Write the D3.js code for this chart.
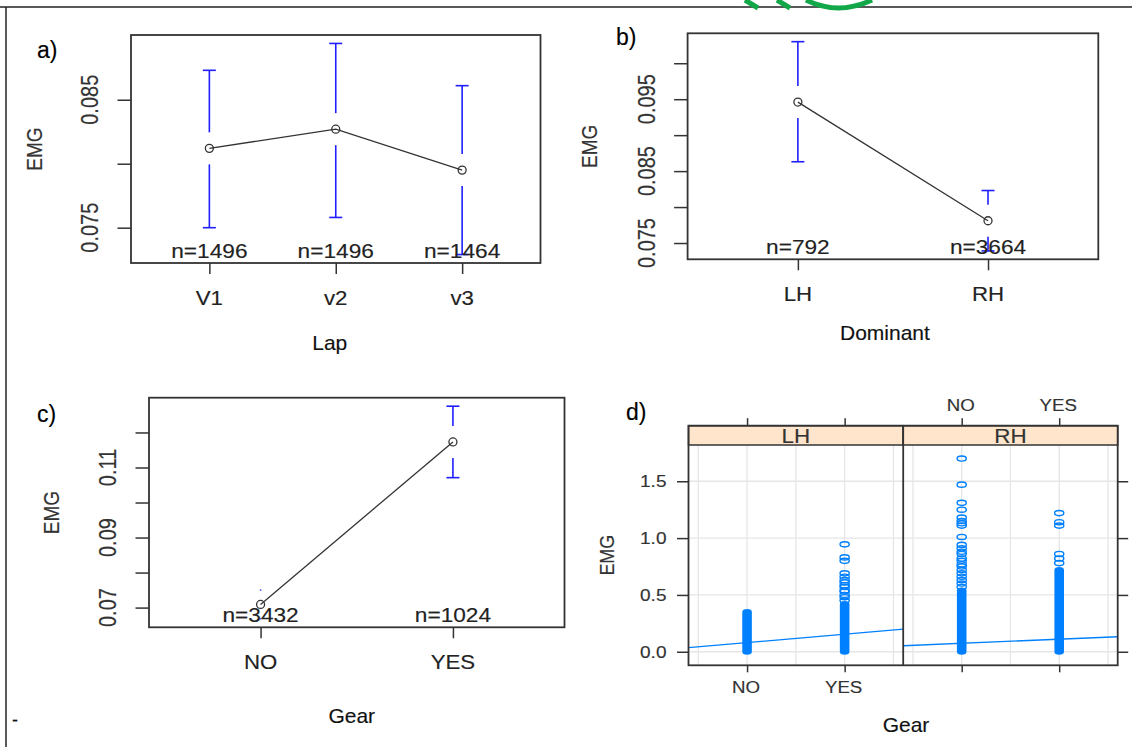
<!DOCTYPE html>
<html>
<head>
<meta charset="utf-8">
<script src="https://cdn.jsdelivr.net/npm/d3@7"></script>
<style>
  body { margin: 0; background: #fff; }
  svg text { font-family: "Liberation Sans", Arial, sans-serif; }
</style>
</head>
<body>
<svg id="fig" width="1132" height="747"></svg>
<script>
// ---------------------
// data
// ---------------------

// a) EMG by lap
var lapLevels = ["V1", "v2", "v3"];
var lapMeans  = [0.0812, 0.0827, 0.0795];
var lapLower  = [0.0750, 0.0758, 0.0729];
var lapUpper  = [0.0873, 0.0894, 0.0861];
var lapN      = [1496, 1496, 1464];
var lapTicks  = [0.075, 0.080, 0.085];
var lapLabels = [0.075, 0.085];

// b) EMG by dominant hand
var domLevels = ["LH", "RH"];
var domMeans  = [0.0946, 0.0781];
var domLower  = [0.0863, 0.0739];
var domUpper  = [0.1030, 0.0823];
var domN      = [792, 3664];
var domTicks  = [0.075, 0.080, 0.085, 0.090, 0.095, 0.100];
var domLabels = [0.075, 0.085, 0.095];

// c) EMG by gear
var gearLevels = ["NO", "YES"];
var gearMeans  = [0.0709, 0.1173];
var gearLower  = [0.0668, 0.1071];
var gearUpper  = [0.0750, 0.1275];
var gearN      = [3432, 1024];
var gearTicks  = [0.07, 0.08, 0.09, 0.10, 0.11, 0.12];
var gearLabels = [0.07, 0.09, 0.11];

// d) EMG vs gear, split by hand (dense runs of points as [low, high])
var handLevels  = ["LH", "RH"];
var lhNoDense   = [0, 0.35];
var lhYesDense  = [0, 0.42];
var rhNoDense   = [0, 0.54];
var rhYesDense  = [0, 0.72];
var lhNoPoints  = [];
var lhYesPoints = [0.945, 0.83, 0.80, 0.69, 0.66, 0.63, 0.61, 0.585, 0.57, 0.54, 0.53, 0.50, 0.48, 0.45];
var rhNoPoints  = [1.70, 1.47, 1.31, 1.25, 1.18, 1.15, 1.13, 1.11, 1.01, 0.94, 0.91, 0.88, 0.86,
                   0.82, 0.80, 0.77, 0.75, 0.72, 0.69, 0.66, 0.63, 0.60, 0.57];
var rhYesPoints = [1.22, 1.14, 1.11, 0.86, 0.82, 0.78];
var lhFit       = [0.080, 0.154];   // fitted values at NO, YES
var rhFit       = [0.0746, 0.1105];
var dTickLabels = ["0.0", "0.5", "1.0", "1.5"];

var svg = d3.select("#fig");
var ink = "#333";
var ciBlue = "#1f1fff";

// page frame of the source document
svg.append("line").attr("x1", 0).attr("x2", 1132).attr("y1", 7).attr("y2", 7)
   .attr("stroke", "#222").attr("stroke-width", 1.5);
svg.append("line").attr("x1", 6).attr("x2", 6).attr("y1", 7).attr("y2", 747)
   .attr("stroke", "#222").attr("stroke-width", 1.5);
svg.append("text").attr("x", 12).attr("y", 726).attr("font-size", 18).attr("fill", "#111").text("-");
// cut-off logo at the top edge
svg.append("path").attr("d", "M745,0 L758,8").attr("stroke", "#12a84a").attr("stroke-width", 5).attr("fill", "none");
svg.append("path").attr("d", "M777,0 L790,8").attr("stroke", "#12a84a").attr("stroke-width", 5).attr("fill", "none");
svg.append("path").attr("d", "M806,0 Q838,16 872,0").attr("stroke", "#12a84a").attr("stroke-width", 5).attr("fill", "none");

// ---------------------
// plotmeans-style panels (a, b, c)
// ---------------------
function meansPanel(cfg) {
  var g = svg.append("g");
  var n = cfg.levels.length;
  var lo = d3.min(cfg.lower), hi = d3.max(cfg.upper), ext = (hi - lo) * 0.04;
  var y = d3.scaleLinear().domain([lo - ext, hi + ext]).range([cfg.bottom, cfg.top]);
  var x = d3.scaleLinear().domain([0.5 - n * 0.04, n + 0.5 + n * 0.04]).range([cfg.left, cfg.right]);
  var idx = d3.range(n);

  // axes
  g.append("g").attr("transform", `translate(${cfg.left},0)`).attr("color", ink)
    .call(d3.axisLeft(y).tickValues(cfg.ticks).tickSize(13.5).tickFormat(""))
    .call(a => a.select(".domain").remove())
    .selectAll("line").attr("stroke-width", 1.5);
  g.append("g").attr("transform", `translate(0,${cfg.bottom})`).attr("color", ink)
    .call(d3.axisBottom(x).tickValues(idx.map(i => i + 1)).tickSize(11).tickFormat(""))
    .call(a => a.select(".domain").remove())
    .selectAll("line").attr("stroke-width", 1.5);

  g.selectAll(".ylab").data(cfg.labels).enter().append("text")
    .attr("transform", d => `translate(${cfg.left - 33},${y(d)}) rotate(-90) scale(1,1.2)`)
    .attr("text-anchor", "middle").attr("font-size", 20).attr("fill", ink)
    .text(d => d3.format(cfg.fmt)(d));

  g.selectAll(".xlab").data(cfg.levels).enter().append("text")
    .attr("transform", (d, i) => `translate(${x(i + 1)},${cfg.bottom + 42}) scale(1.06,1)`)
    .attr("text-anchor", "middle").attr("font-size", 21).attr("fill", "#222")
    .text(d => d);

  // box
  g.append("rect").attr("x", cfg.left).attr("y", cfg.top)
    .attr("width", cfg.right - cfg.left).attr("height", cfg.bottom - cfg.top)
    .attr("fill", "none").attr("stroke", ink).attr("stroke-width", 1.8);

  // confidence bars with a gap round the mean
  var gap = 16, cap = 6.5;
  idx.forEach(function (i) {
    var cx = x(i + 1), ym = y(cfg.means[i]), yu = y(cfg.upper[i]), yl = y(cfg.lower[i]);
    var bar = g.append("g").attr("stroke", ciBlue).attr("stroke-width", 1.6);
    if (yu < ym - gap) {
      bar.append("line").attr("x1", cx).attr("x2", cx).attr("y1", yu).attr("y2", ym - gap);
      bar.append("line").attr("x1", cx - cap).attr("x2", cx + cap).attr("y1", yu).attr("y2", yu);
    } else {
      bar.append("line").attr("x1", cx).attr("x2", cx).attr("y1", yu - 0.6).attr("y2", yu + 0.6);
    }
    if (yl > ym + gap) {
      bar.append("line").attr("x1", cx).attr("x2", cx).attr("y1", ym + gap).attr("y2", yl);
      bar.append("line").attr("x1", cx - cap).attr("x2", cx + cap).attr("y1", yl).attr("y2", yl);
    } else {
      bar.append("line").attr("x1", cx).attr("x2", cx).attr("y1", yl - 0.6).attr("y2", yl + 0.6);
    }
  });

  // means
  g.append("path").datum(cfg.means)
    .attr("d", d3.line().x((d, i) => x(i + 1)).y(d => y(d)))
    .attr("fill", "none").attr("stroke", ink).attr("stroke-width", 1.3);
  g.selectAll(".pt").data(cfg.means).enter().append("circle")
    .attr("cx", (d, i) => x(i + 1)).attr("cy", d => y(d)).attr("r", 4)
    .attr("fill", "none").attr("stroke", ink).attr("stroke-width", 1.3);

  // n= labels
  g.selectAll(".nlab").data(cfg.counts).enter().append("text")
    .attr("transform", (d, i) => `translate(${x(i + 1)},${cfg.bottom - 5}) scale(1.08,1)`)
    .attr("text-anchor", "middle").attr("font-size", 21).attr("fill", "#222")
    .text(d => "n=" + d);

  // titles
  g.append("text").attr("x", (cfg.left + cfg.right) / 2 + cfg.titleDx).attr("y", cfg.titleY)
    .attr("text-anchor", "middle").attr("font-size", 21).attr("fill", "#111").text(cfg.xTitle);
  g.append("text")
    .attr("transform", `translate(${cfg.emgX},${(cfg.top + cfg.bottom) / 2}) rotate(-90) scale(1,1.15)`)
    .attr("text-anchor", "middle").attr("font-size", 19).attr("fill", ink).text("EMG");
  g.append("text").attr("x", cfg.tagX).attr("y", cfg.tagY)
    .attr("font-size", 23).attr("fill", "#000").text(cfg.tag);
}

meansPanel({
  levels: lapLevels, means: lapMeans, lower: lapLower, upper: lapUpper, counts: lapN,
  ticks: lapTicks, labels: lapLabels, fmt: ".3f", xTitle: "Lap", tag: "a)",
  left: 131, right: 540.5, top: 35, bottom: 263,
  titleY: 350, titleDx: -6, emgX: 42, tagX: 37, tagY: 58
});
meansPanel({
  levels: domLevels, means: domMeans, lower: domLower, upper: domUpper, counts: domN,
  ticks: domTicks, labels: domLabels, fmt: ".3f", xTitle: "Dominant", tag: "b)",
  left: 687.6, right: 1098.3, top: 33.3, bottom: 259.3,
  titleY: 340, titleDx: -8, emgX: 597, tagX: 616, tagY: 45
});
meansPanel({
  levels: gearLevels, means: gearMeans, lower: gearLower, upper: gearUpper, counts: gearN,
  ticks: gearTicks, labels: gearLabels, fmt: ".2f", xTitle: "Gear", tag: "c)",
  left: 149, right: 564.5, top: 397.7, bottom: 627.3,
  titleY: 723, titleDx: -5, emgX: 59, tagX: 37, tagY: 422
});

// ---------------------
// d) lattice-style scatter, two panels
// ---------------------
(function () {
  var top = 445, bottom = 665.3, stripTop = 425.7, left = 688.5, mid = 903.2, right = 1117.7;
  var all = [].concat(lhNoDense, lhYesDense, rhNoDense, rhYesDense, lhYesPoints, rhNoPoints, rhYesPoints);
  var lo = d3.min(all), hi = d3.max(all), ext = (hi - lo) * 0.07;
  var y = d3.scaleLinear().domain([lo - ext, hi + ext]).range([bottom, top]);
  var pointBlue = "#0080ff";
  var g = svg.append("g");

  var panels = [
    { hand: handLevels[0], left: left, right: mid, dense: [lhNoDense, lhYesDense],
      points: [lhNoPoints, lhYesPoints], fit: lhFit },
    { hand: handLevels[1], left: mid, right: right, dense: [rhNoDense, rhYesDense],
      points: [rhNoPoints, rhYesPoints], fit: rhFit }
  ];

  panels.forEach(function (p, k) {
    var x = d3.scaleLinear().domain([0.4, gearLevels.length + 0.6]).range([p.left, p.right]);
    var pg = g.append("g");
    var clipId = "clip" + k;
    pg.append("clipPath").attr("id", clipId).append("rect")
      .attr("x", p.left).attr("y", top).attr("width", p.right - p.left).attr("height", bottom - top);

    // grid
    pg.selectAll(".vg").data(x.ticks(5)).enter().append("line")
      .attr("x1", d => x(d)).attr("x2", d => x(d)).attr("y1", top).attr("y2", bottom)
      .attr("stroke", "#e6e6e6").attr("stroke-width", 1.3);
    pg.selectAll(".hg").data(y.ticks(4)).enter().append("line")
      .attr("x1", p.left).attr("x2", p.right).attr("y1", d => y(d)).attr("y2", d => y(d))
      .attr("stroke", "#e6e6e6").attr("stroke-width", 1.3);

    // dense runs and single points
    gearLevels.forEach(function (lev, i) {
      var cx = x(i + 1), run = p.dense[i];
      pg.append("rect").attr("x", cx - 4.8).attr("y", y(run[1]) - 3)
        .attr("width", 9.6).attr("height", y(run[0]) - y(run[1]) + 6)
        .attr("rx", 4.8).attr("ry", 3).attr("fill", pointBlue);
      pg.selectAll(".p" + i).data(p.points[i]).enter().append("ellipse")
        .attr("cx", cx).attr("cy", d => y(d)).attr("rx", 4.6).attr("ry", 2.6)
        .attr("fill", "none").attr("stroke", pointBlue).attr("stroke-width", 1.4);
    });

    // regression line through the fitted values, across the panel
    var slope = p.fit[1] - p.fit[0], icpt = p.fit[0] - slope;
    var xd = x.domain();
    pg.append("path").datum(xd)
      .attr("d", d3.line().x(d => x(d)).y(d => y(icpt + slope * d)))
      .attr("clip-path", `url(#${clipId})`)
      .attr("fill", "none").attr("stroke", pointBlue).attr("stroke-width", 1.3);

    // strip
    pg.append("rect").attr("x", p.left).attr("y", stripTop)
      .attr("width", p.right - p.left).attr("height", top - stripTop)
      .attr("fill", "#ffe5cc").attr("stroke", ink).attr("stroke-width", 1.5);
    pg.append("text")
      .attr("transform", `translate(${(p.left + p.right) / 2},${top - 2}) scale(1.12,1)`)
      .attr("text-anchor", "middle").attr("font-size", 20).attr("fill", ink).text(p.hand);

    // gear ticks: bottom labelled on the left panel, top labelled on the right one
    var pos = gearLevels.map((d, i) => i + 1);
    pg.append("g").attr("transform", `translate(0,${bottom})`).attr("color", ink)
      .call(d3.axisBottom(x).tickValues(pos).tickSize(7).tickFormat(""))
      .call(a => a.select(".domain").remove())
      .selectAll("line").attr("stroke-width", 1.5);
    pg.append("g").attr("transform", `translate(0,${stripTop})`).attr("color", ink)
      .call(d3.axisTop(x).tickValues(pos).tickSize(7.5).tickFormat(""))
      .call(a => a.select(".domain").remove())
      .selectAll("line").attr("stroke-width", 1.5);
    pg.selectAll(".gl").data(gearLevels).enter().append("text")
      .attr("transform", (d, i) => `translate(${x(i + 1) - 1},${k === 0 ? bottom + 28 : stripTop - 15}) scale(1.1,1)`)
      .attr("text-anchor", "middle").attr("font-size", 17).attr("fill", ink).text(d => d);
  });

  // y axis: labels left, bare ticks right
  g.append("g").attr("transform", `translate(${left},0)`).attr("color", ink)
    .call(d3.axisLeft(y).ticks(4).tickSize(11.5).tickFormat(""))
    .call(a => a.select(".domain").remove())
    .selectAll("line").attr("stroke-width", 1.5);
  g.append("g").attr("transform", `translate(${right},0)`).attr("color", ink)
    .call(d3.axisRight(y).ticks(4).tickSize(10.5).tickFormat(""))
    .call(a => a.select(".domain").remove())
    .selectAll("line").attr("stroke-width", 1.5);
  g.selectAll(".yl").data(y.ticks(4)).enter().append("text")
    .attr("transform", d => `translate(${left - 22},${y(d) + 6}) scale(1.12,1)`)
    .attr("text-anchor", "end").attr("font-size", 17).attr("fill", ink)
    .text((d, i) => dTickLabels[i]);

  // outer frame and divider
  g.append("rect").attr("x", left).attr("y", stripTop)
    .attr("width", right - left).attr("height", bottom - stripTop)
    .attr("fill", "none").attr("stroke", ink).attr("stroke-width", 1.8);
  g.append("line").attr("x1", mid).attr("x2", mid).attr("y1", stripTop).attr("y2", bottom)
    .attr("stroke", ink).attr("stroke-width", 1.8);

  // titles
  g.append("text").attr("x", 906).attr("y", 732).attr("text-anchor", "middle")
    .attr("font-size", 21).attr("fill", "#111").text("Gear");
  g.append("text").attr("transform", `translate(614,${(top + bottom) / 2}) rotate(-90) scale(1,1.15)`)
    .attr("text-anchor", "middle").attr("font-size", 18).attr("fill", ink).text("EMG");
  g.append("text").attr("x", 626).attr("y", 420).attr("font-size", 23).attr("fill", "#000").text("d)");
})();

// the scanned figure has slightly heavy lettering: thicken every label a touch
svg.selectAll("text").each(function () {
  var t = d3.select(this);
  t.attr("stroke", t.attr("fill")).attr("stroke-width", 0.15);
});
</script>
</body>
</html>
